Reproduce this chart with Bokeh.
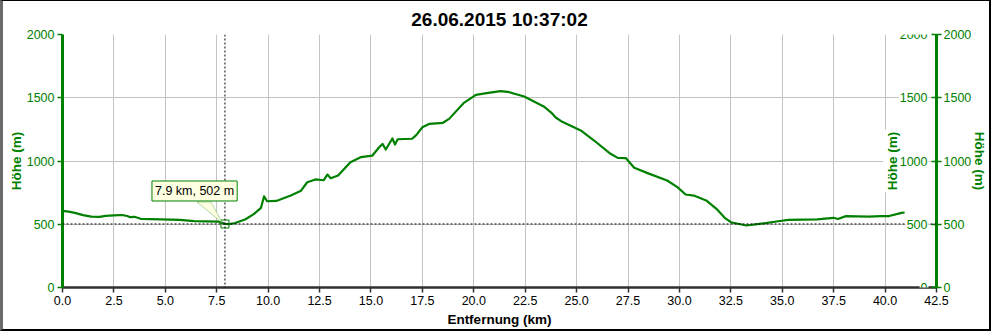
import math
from bokeh.plotting import figure
from bokeh.models import (Range1d, LinearAxis, FixedTicker, PrintfTickFormatter,
                          Span, Label, PolyAnnotation)
from bokeh.embed import file_html
from bokeh.resources import INLINE

# ---------------- data ----------------
TITLE = "26.06.2015 10:37:02"
X_LABEL = "Entfernung (km)"
Y_LABEL = "Höhe (m)"

distance_km = [0.0, 0.3, 0.6, 1.0, 1.4, 1.8, 2.1, 2.5, 2.9, 3.15, 3.3, 3.5, 3.8, 4.3,
               4.8, 5.7, 6.4, 7.0, 7.6, 7.9, 8.1, 8.4, 8.9, 9.3, 9.65, 9.8, 9.95, 10.4,
               11.1, 11.6, 11.9, 12.3, 12.7, 12.88, 13.04, 13.4, 14.0, 14.5, 15.07, 15.4,
               15.56, 15.72, 16.04, 16.17, 16.3, 17.0, 17.2, 17.5, 17.85, 18.5, 18.8, 19.5,
               20.1, 20.7, 21.3, 21.65, 22.45, 23.4, 23.75, 24.0, 24.25, 25.2, 25.85, 26.65,
               27.0, 27.4, 27.8, 28.45, 29.4, 29.9, 30.3, 30.7, 31.3, 31.8, 32.2, 32.5,
               33.25, 33.9, 34.8, 35.3, 36.7, 37.5, 37.7, 38.1, 39.2, 39.8, 40.2, 40.8, 40.95]
elevation_m = [605, 600, 590, 572, 560, 558, 566, 570, 573, 565, 556, 559, 543, 540,
               538, 534, 524, 522, 520, 503, 501, 510, 540, 580, 630, 720, 682, 684,
               727, 765, 832, 854, 848, 893, 864, 885, 991, 1030, 1043, 1109,
               1135, 1091, 1178, 1130, 1172, 1176, 1205, 1267, 1294, 1302, 1333, 1457,
               1523, 1538, 1552, 1547, 1510, 1431, 1385, 1342, 1315, 1242, 1162, 1057,
               1025, 1022, 946, 904, 846, 793, 735, 727, 688, 622, 551, 516,
               490, 503, 524, 535, 538, 551, 541, 564, 561, 564, 565, 590, 593]

x_ticks = [0.0, 2.5, 5.0, 7.5, 10.0, 12.5, 15.0, 17.5, 20.0, 22.5, 25.0, 27.5,
           30.0, 32.5, 35.0, 37.5, 40.0, 42.5]
y_ticks = [0, 500, 1000, 1500, 2000]

cursor_km = 7.9
cursor_m = 502
cursor_text = "7.9 km, 502 m"

# ---------------- style ----------------
GREEN = "#008000"
FONT = "Liberation Sans"
GRID = "#c3c3c3"
X_MAX = 42.5
Y_MAX = 2000

BL, BT, BR, BB = 3, 1, 2, 2          # outer frame border widths (drawn outside canvas)
W, H = 996 - BL - BR, 334 - BT - BB  # canvas size
ML, MR, MT, MB = 59, 58, 33, 45

p = figure(width=W, height=H, x_range=Range1d(0, X_MAX), y_range=Range1d(0, Y_MAX),
           output_backend="svg", toolbar_location=None, title=TITLE,
           min_border_left=ML, min_border_right=MR, min_border_top=MT, min_border_bottom=MB)
p.styles = {"border-left": f"{BL}px solid #6a6a6a", "border-top": f"{BT}px solid #000",
            "border-right": f"{BR}px solid #000", "border-bottom": f"{BB}px solid #000"}
p.outline_line_color = None
p.background_fill_color = "white"
p.border_fill_color = "white"

p.title.text_font = FONT
p.title.text_font_size = "19px"
p.title.text_font_style = "bold"
p.title.text_color = "black"
p.title.align = "center"

# grid
p.xgrid.ticker = FixedTicker(ticks=x_ticks)
p.ygrid.ticker = FixedTicker(ticks=y_ticks)
for g in (p.xgrid, p.ygrid):
    g.grid_line_color = GRID
    g.grid_line_width = 1

# bottom axis
xa = p.xaxis[0]
xa.ticker = FixedTicker(ticks=x_ticks)
xa.formatter = PrintfTickFormatter(format="%.1f")
xa.axis_label = X_LABEL
xa.axis_line_color = "#303030"
xa.axis_line_width = 2.5
xa.major_tick_line_color = "#303030"
xa.major_tick_line_width = 1.5
xa.major_tick_in = 0
xa.major_tick_out = 5
xa.minor_tick_line_color = None
xa.major_label_text_font = FONT
xa.major_label_text_font_size = "12.5px"
xa.major_label_text_color = "black"
xa.major_label_standoff = 3
xa.axis_label_text_font = FONT
xa.axis_label_text_font_size = "13.5px"
xa.axis_label_text_font_style = "bold"
xa.axis_label_text_color = "black"
xa.axis_label_standoff = 4


def style_y(ax):
    ax.ticker = FixedTicker(ticks=y_ticks)
    ax.axis_label = Y_LABEL
    ax.axis_line_color = GREEN
    ax.axis_line_width = 3
    ax.major_tick_line_color = GREEN
    ax.major_tick_line_width = 1.5
    ax.major_tick_out = 5
    ax.minor_tick_line_color = None
    ax.major_label_text_font = FONT
    ax.major_label_text_font_size = "12.5px"
    ax.major_label_text_color = GREEN
    ax.major_label_standoff = 3
    ax.axis_label_text_font = FONT
    ax.axis_label_text_font_size = "13.5px"
    ax.axis_label_text_font_style = "bold"
    ax.axis_label_text_color = GREEN
    ax.axis_label_standoff = 0


ya = p.yaxis[0]
style_y(ya)
ya.major_tick_in = 0

ra = LinearAxis()
style_y(ra)
ra.major_tick_in = 5
ra.major_label_standoff = 2
ra.axis_label_standoff = -2
p.add_layout(ra, "right")

# crosshair
p.add_layout(Span(location=cursor_km, dimension="height", line_color="black",
                  line_dash="2 2", line_width=1))
p.add_layout(Span(location=cursor_m, dimension="width", line_color="black",
                  line_dash="2 2", line_width=1))

# profile line
p.line(distance_km, elevation_m, line_color=GREEN, line_width=2.2, line_join="round")

# cursor marker
p.scatter([cursor_km], [cursor_m], marker="square", size=8, fill_color=None,
          line_color=GREEN, line_width=1)

# inner right axis title and tick labels
p.add_layout(Label(x=X_MAX, y=Y_MAX / 2, x_offset=-44, text=Y_LABEL, angle=math.pi / 2,
                   text_align="center", text_baseline="middle", text_font=FONT,
                   text_font_size="13.5px", text_font_style="bold", text_color=GREEN,
                   background_fill_color="white", padding=2))
for t in y_ticks:
    p.add_layout(Label(x=X_MAX, y=t, x_offset=-8, text=str(t), text_align="right",
                       text_baseline="middle", text_font=FONT, text_font_size="12.5px",
                       text_color=GREEN, background_fill_color="white", padding=1))

# callout pointer (pixel offsets converted to data units)
frame_w = W - ML - MR
frame_h = H - MT - MB
kx = X_MAX / frame_w
ky = Y_MAX / frame_h
p.add_layout(PolyAnnotation(
    xs=[cursor_km - 28 * kx, cursor_km - 2.5 * kx, cursor_km - 14 * kx],
    ys=[cursor_m + 22 * ky, cursor_m + 1 * ky, cursor_m + 22 * ky],
    fill_color="#ffffe1", fill_alpha=1, line_color=GREEN, line_width=1))
p.add_layout(Label(x=cursor_km, y=cursor_m, x_offset=-73, y_offset=23, text=cursor_text,
                   text_align="left", text_baseline="bottom", text_font=FONT,
                   text_font_size="12.5px", text_color="black",
                   background_fill_color="#ffffe1", border_line_color=GREEN, padding=3))

open("out.html", "w").write(file_html(p, INLINE))
